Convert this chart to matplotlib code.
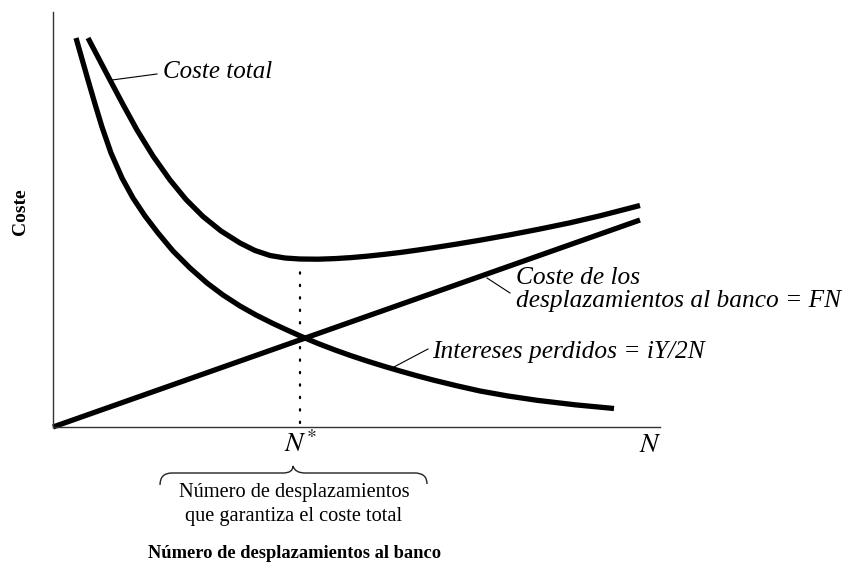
import matplotlib
matplotlib.use("Agg")
import matplotlib.pyplot as plt
from matplotlib.path import Path
from matplotlib.patches import PathPatch

plt.rcParams['font.family'] = ['Liberation Serif', 'DejaVu Serif']
plt.rcParams['mathtext.fontset'] = 'stix'

# curvas (unidades arbitrarias)
n_interes = [2.3, 2.9, 3.5, 4.2, 4.9, 5.8, 6.9, 8.0, 9.2, 10.5, 12.0, 13.7, 15.4, 17.0,
             18.7, 20.3, 22.0, 23.4, 24.8, 26.5, 28.2, 29.8, 31.4, 33.1, 34.7, 36.3,
             38.0, 40.3, 42.7, 45.5, 48.4, 52.2, 56.1]
interes = [38.9, 36.8, 34.7, 32.3, 30.0, 27.4, 24.9, 22.9, 21.1, 19.4, 17.6, 15.9, 14.4,
           13.2, 12.1, 11.2, 10.35, 9.7, 9.07, 8.35, 7.7, 7.13, 6.6, 6.07, 5.6, 5.15,
           4.7, 4.14, 3.6, 3.1, 2.67, 2.22, 1.85]

n_total = [3.5, 4.6, 5.7, 7.0, 8.4, 10.0, 11.7, 13.3, 15.0, 16.8, 18.7, 20.2, 21.7, 23.2,
           24.7, 26.5, 28.2, 29.8, 31.4, 33.1, 34.7, 36.3, 38.0, 40.3, 42.7, 45.7, 48.7,
           51.7, 54.7, 58.7]
total = [38.9, 36.8, 34.7, 32.25, 29.7, 27.1, 24.7, 22.75, 21.05, 19.6, 18.4, 17.65,
         17.15, 16.9, 16.8, 16.78, 16.84, 16.94, 17.08, 17.26, 17.45, 17.67, 17.92, 18.28,
         18.68, 19.22, 19.8, 20.42, 21.12, 22.15]

n_despl = [0.0, 58.7]
despl = [0.0, 20.7]

n_opt = 24.7
coste_min = 16.8

fig = plt.figure(figsize=(8.5, 5.78), dpi=100)
ax = fig.add_axes([53/850, (578-427)/578, (660-53)/850, (427-12)/578])
ax.set_xlim(0, 60.7)
ax.set_ylim(0, 41.5)

lw = 3.8
for xs, ys in [(n_interes, interes), (n_total, total), (n_despl, despl)]:
    ax.plot(xs, ys, color='black', lw=lw, solid_capstyle='butt',
            solid_joinstyle='round', clip_on=False)
ax.plot([n_opt, n_opt], [0.4, coste_min - 0.6], color='black', lw=1.6,
        linestyle=(0, (0.6, 5)), dash_capstyle='round')

for s in ['top', 'right']:
    ax.spines[s].set_visible(False)
for s in ['left', 'bottom']:
    ax.spines[s].set_color('#333333')
    ax.spines[s].set_linewidth(1.0)
ax.set_xticks([])
ax.set_yticks([])

# etiquetas de las curvas
fs = 18.3
ax.text(11.0, 35.5, 'Coste total', style='italic', fontsize=18, va='center', ha='left')
ax.plot([5.9, 10.4], [34.7, 35.3], color='black', lw=0.8)

ax.text(46.3, 14.9, 'Coste de los', style='italic', fontsize=fs, va='center', ha='left')
ax.text(46.3, 12.6, 'desplazamientos al banco = FN', style='italic', fontsize=fs,
        va='center', ha='left', clip_on=False)
ax.plot([43.4, 45.7], [14.9, 13.4], color='black', lw=0.8)

ax.text(37.9, 7.5, 'Intereses perdidos = iY/2N', style='italic', fontsize=fs,
        va='center', ha='left')
ax.plot([33.9, 37.5], [5.9, 7.8], color='black', lw=0.8)

ax.text(n_opt, -1.8, r'$N^{*}$', fontsize=20, ha='center', va='center', clip_on=False)
ax.text(59.7, -1.8, r'$N$', fontsize=20, ha='center', va='center', clip_on=False)

# llave bajo N*
verts = [(10.7, -5.8), (10.7, -4.6), (11.9, -4.6),
         (23.0, -4.6), (24.0, -4.6), (24.0, -3.9),
         (24.2, -4.6), (25.2, -4.6),
         (36.2, -4.6), (37.4, -4.6), (37.4, -5.7)]
codes = [Path.MOVETO, Path.CURVE3, Path.CURVE3,
         Path.LINETO, Path.CURVE3, Path.CURVE3,
         Path.CURVE3, Path.CURVE3,
         Path.LINETO, Path.CURVE3, Path.CURVE3]
ax.add_patch(PathPatch(Path(verts, codes), fill=False, lw=1.0, color='#222222', clip_on=False))

fig.text(294/850, 1 - 492/578, 'Número de desplazamientos', fontsize=14.7, ha='center', va='center')
fig.text(294/850, 1 - 516/578, 'que garantiza el coste total', fontsize=14.7, ha='center', va='center')

fig.text(295/850, 1 - 553/578, 'Número de desplazamientos al banco', fontsize=13.3,
         fontweight='bold', ha='center', va='center')
fig.text(20/850, 1 - 212/578, 'Coste', fontsize=14, fontweight='bold', rotation=90,
         ha='center', va='center')

fig.savefig('out.png', dpi=100)
